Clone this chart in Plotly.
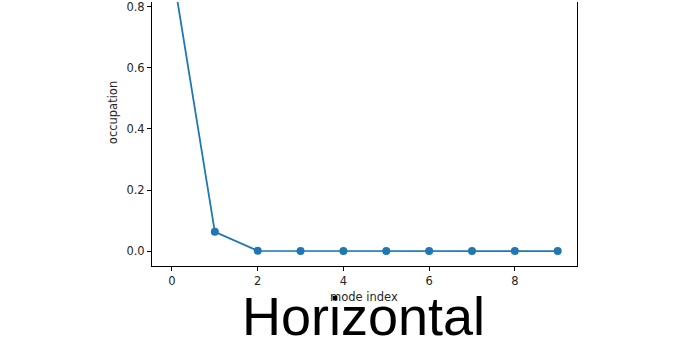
import plotly.graph_objects as go

mode_index = [0, 1, 2, 3, 4, 5, 6, 7, 8, 9]
occupation = [0.93, 0.063, 0.0008, 0.0003, 0.0002, 0.0001, 0.0001, 0.0001, 0.0, 0.0]
x_ticks = [0, 2, 4, 6, 8]
y_ticks = [0.0, 0.2, 0.4, 0.6, 0.8]

blue = "#1f77b4"
font = dict(family="DejaVu Sans", size=11.5, color="#262626")

fig = go.Figure()
fig.add_trace(go.Scatter(
    x=mode_index, y=occupation, mode="lines+markers",
    line=dict(color=blue, width=1.8),
    marker=dict(color=blue, size=8),
    showlegend=False,
))

fig.update_layout(
    width=673, height=353,
    margin=dict(l=152, r=96, t=0, b=87),
    plot_bgcolor="white", paper_bgcolor="white",
    font=font,
    xaxis=dict(
        range=[-0.466, 9.45], tickvals=x_ticks, ticktext=[str(v) for v in x_ticks],
        showgrid=False, zeroline=False, showline=True, linecolor="black", linewidth=1,
        mirror=False, ticks="outside", ticklen=4, tickcolor="black", tickwidth=1,
        tickfont=font,
    ),
    yaxis=dict(
        range=[-0.049, 0.816], tickvals=y_ticks, ticktext=["%.1f" % v for v in y_ticks],
        showgrid=False, zeroline=False, showline=True, linecolor="black", linewidth=1,
        mirror=True, ticks="outside", ticklen=4, tickcolor="black", tickwidth=1,
        tickfont=font, ticklabeloverflow="allow",
    ),
    annotations=[
        dict(text="mode index", x=0.5, y=-0.115, xref="paper", yref="paper",
             xanchor="center", yanchor="middle", showarrow=False, font=font),
        dict(text="occupation", x=113, y=0.5, xref="paper", yref="paper",
             showarrow=False, font=font, textangle=-90),
        dict(text="Horizontal", x=0.5, y=-0.19, xref="paper", yref="paper",
             xanchor="center", yanchor="middle", showarrow=False,
             font=dict(family="Liberation Sans", size=54, color="black")),
    ],
)
# label positions in pixels relative to plot area
fig.layout.annotations[1].update(x=(113 - 152) / (577 - 152), y=(266 - 112) / 266,
                                 xanchor="center", yanchor="middle")
fig.layout.annotations[0].update(x=(364 - 152) / (577 - 152), y=(266 - 297) / 266)
fig.layout.annotations[2].update(x=(363 - 152) / (577 - 152), y=(266 - 316) / 266)

fig.write_html("out.html")
